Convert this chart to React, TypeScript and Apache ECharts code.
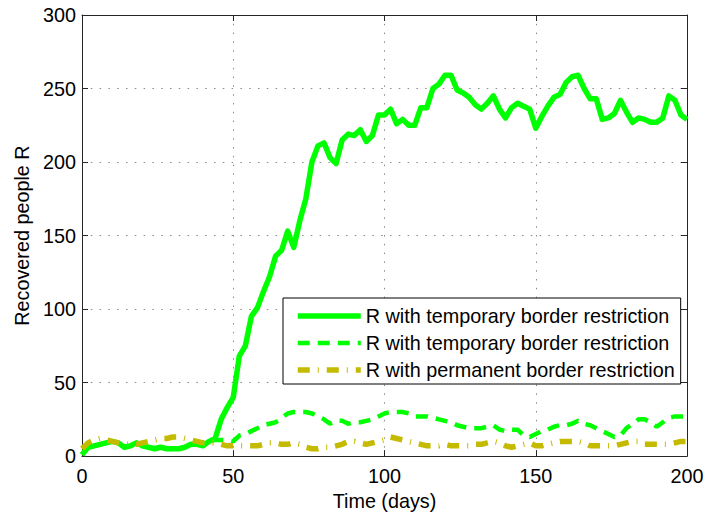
import React, { useEffect, useRef } from "react";
import * as echarts from "echarts";

// Day index of every sample (one sample every 2 days, 0..200)
const days: number[] = Array.from({ length: 101 }, (_, i) => i * 2);

// Recovered people R, temporary border restriction (solid)
const temporaryR: number[] = [
  1, 6, 7, 8, 9, 10, 9, 6, 7, 9, 7, 6, 5, 6, 5, 5, 5, 6, 8, 8,
  7, 10, 12, 25, 33, 40, 68, 75, 95, 101, 112, 122, 136, 140, 153, 142, 160, 175, 200, 211,
  213, 203, 199, 215, 219, 218, 222, 214, 218, 232, 232, 236, 226, 229, 225, 225, 237, 237, 250, 253,
  259, 259, 249, 247, 244, 239, 236, 240, 245, 236, 230, 237, 240, 238, 236, 223, 231, 238, 244, 246,
  254, 258, 259, 250, 243, 243, 229, 230, 233, 242, 234, 227, 230, 229, 227, 227, 230, 245, 242, 232,
  229,
];

// Recovered people R, temporary border restriction (dashed)
const temporaryRDashed: number[] = [
  1, 6, 7, 8, 9, 10, 9, 6, 7, 9, 7, 6, 5, 6, 5, 5, 5, 6, 8, 8,
  7, 10, 11, 11, 11, 10, 14, 15, 17, 19, 21, 22, 23, 26, 29, 30, 30, 30, 29, 27,
  25, 22, 24, 24, 22, 23, 23, 24, 25, 27, 29, 30, 30, 30, 29, 27, 27, 27, 26, 25,
  24, 23, 21, 20, 19, 19, 19, 20, 21, 18, 17, 18, 18, 14, 13, 15, 17, 18, 20, 21,
  21, 22, 24, 22, 21, 19, 17, 15, 13, 14, 19, 22, 25, 25, 23, 20, 23, 26, 27, 27,
  27,
];

// Recovered people R, permanent border restriction (dash-dot)
const permanentR: number[] = [
  5, 9, 11, 12, 11, 10, 9, 8, 8, 8, 9, 10, 11, 12, 12, 13, 13, 12, 11, 10,
  9, 9, 9, 8, 7, 7, 7, 7, 7, 7, 8, 9, 9, 8, 8, 9, 8, 6, 5, 5,
  6, 6, 7, 8, 10, 10, 9, 8, 9, 10, 11, 13, 12, 11, 10, 9, 8, 7, 7, 7,
  8, 7, 7, 7, 7, 8, 8, 9, 10, 9, 7, 6, 7, 8, 9, 7, 7, 8, 9, 10,
  10, 10, 10, 9, 7, 7, 7, 7, 7, 8, 9, 10, 10, 8, 8, 8, 8, 8, 9, 10,
  10,
];

const legendLabels: Record<string, string> = {
  temporary: "R with temporary border restriction",
  temporaryDashed: "R with temporary border restriction",
  permanent: "R with permanent border restriction",
};

const xTicks = { min: 0, max: 200, interval: 50 };
const yTicks = { min: 0, max: 300, interval: 50 };

const FONT = "'Liberation Sans', Arial, Helvetica, sans-serif";
const AXIS_COLOR = "#262626";
const GREEN = "#00ff00";
const OLIVE = "#c4bb00";

const SOLID_W = 5.5;
const DASH_W = 4.5;
const DASHDOT_W = 5.5;
const DASH = [12, 8];
const DASHDOT = [12, 8, 1, 8];

const pairs = (ys: number[]) => days.map((d, i) => [d, ys[i]]);

export default function App() {
  const ref = useRef<HTMLDivElement>(null);

  useEffect(() => {
    if (!ref.current) return;
    const chart = echarts.init(ref.current, undefined, { renderer: "svg" });

    const axisLine = { show: true, onZero: false, lineStyle: { color: AXIS_COLOR, width: 1 } };
    const axisTick = { show: true, inside: true, length: 6, lineStyle: { color: AXIS_COLOR, width: 1 } };
    const splitLine = {
      show: true,
      lineStyle: { type: [1.5, 7.3], color: "#8a8a8a", width: 1 },
    };
    const labelStyle = { fontSize: 19.8, color: "#000", fontFamily: FONT };

    chart.setOption({
      animation: false,
      backgroundColor: "#fff",
      grid: { left: 82, right: 21, top: 15, bottom: 56 },
      xAxis: [
        {
          type: "value",
          ...xTicks,
          name: "Time (days)",
          nameLocation: "middle",
          nameGap: 27,
          nameTextStyle: labelStyle,
          axisLine,
          axisTick,
          axisLabel: { ...labelStyle, margin: 10 },
          splitLine,
        },
        {
          type: "value",
          position: "top",
          ...xTicks,
          axisLine,
          axisTick,
          axisLabel: { show: false },
          splitLine: { show: false },
        },
      ],
      yAxis: [
        {
          type: "value",
          ...yTicks,
          name: "Recovered people R",
          nameLocation: "middle",
          nameGap: 50,
          nameTextStyle: labelStyle,
          axisLine,
          axisTick,
          axisLabel: { ...labelStyle, margin: 6 },
          splitLine,
        },
        {
          type: "value",
          position: "right",
          ...yTicks,
          axisLine,
          axisTick,
          axisLabel: { show: false },
          splitLine: { show: false },
        },
      ],
      legend: {
        orient: "vertical",
        left: 283,
        top: 298,
        itemWidth: 63,
        itemHeight: 20,
        itemGap: 7,
        padding: [8, 6, 4, 12],
        borderColor: "#000",
        borderWidth: 1,
        backgroundColor: "#fff",
        itemStyle: { opacity: 0, borderWidth: 0 },
        textStyle: labelStyle,
        formatter: (name: string) => legendLabels[name],
        data: [
          { name: "temporary", lineStyle: { width: SOLID_W, color: GREEN } },
          { name: "temporaryDashed", lineStyle: { width: DASH_W, color: GREEN, type: DASH } },
          { name: "permanent", lineStyle: { width: DASHDOT_W, color: OLIVE, type: DASHDOT } },
        ],
      },
      series: [
        {
          name: "temporary",
          type: "line",
          data: pairs(temporaryR),
          showSymbol: false,
          symbol: "none",
          lineStyle: { color: GREEN, width: SOLID_W, join: "round" },
          itemStyle: { color: GREEN },
        },
        {
          name: "temporaryDashed",
          type: "line",
          data: pairs(temporaryRDashed),
          showSymbol: false,
          symbol: "none",
          lineStyle: { color: GREEN, width: DASH_W, type: DASH },
          itemStyle: { color: GREEN },
        },
        {
          name: "permanent",
          type: "line",
          data: pairs(permanentR),
          showSymbol: false,
          symbol: "none",
          lineStyle: { color: OLIVE, width: DASHDOT_W, type: DASHDOT },
          itemStyle: { color: OLIVE },
        },
      ],
    });

    return () => chart.dispose();
  }, []);

  return <div ref={ref} style={{ width: 708, height: 516, position: "absolute", left: 0, top: 0 }} />;
}
